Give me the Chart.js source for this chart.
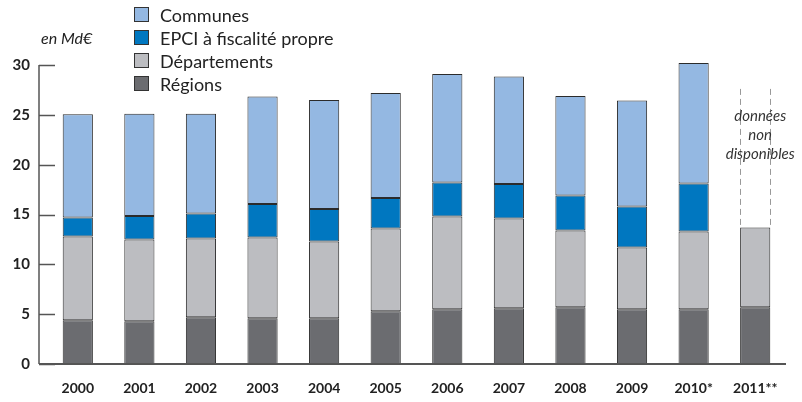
<!DOCTYPE html>
<html>
<head>
<meta charset="utf-8">
<script src="https://cdn.jsdelivr.net/npm/chart.js@4/dist/chart.umd.min.js"></script>
<style>
  body { margin: 0; background: #fff; }
  #wrap { position: relative; width: 802px; height: 402px; font-family: 'Lato', 'Open Sans', sans-serif; color: #222; }
  #legend { position: absolute; left: 134px; top: 3px; }
  .lg-item { display: flex; align-items: center; height: 23px; font-size: 18px; }
  .lg-box { width: 13px; height: 13px; border: 1px solid #333; margin-right: 11px; }
  #unit { position: absolute; left: 41px; top: 28px; font-size: 16px; font-style: italic; }
</style>
</head>
<body>
<div id="wrap">
  <canvas id="chart" width="802" height="402"></canvas>
  <div id="unit">en Md€</div>
  <div id="legend"></div>
</div>
<script>
'use strict';

// ----- données (en Md€) -----
const years = ['2000', '2001', '2002', '2003', '2004', '2005', '2006', '2007', '2008', '2009', '2010*', '2011**'];
const regions      = [4.4, 4.3, 4.7, 4.6, 4.6, 5.3, 5.5, 5.6, 5.7, 5.5, 5.5, 5.7];
const departements = [8.4, 8.2, 7.9, 8.1, 7.7, 8.3, 9.3, 9.0, 7.7, 6.2, 7.8, 8.0];
const epci         = [1.9, 2.35, 2.5, 3.35, 3.25, 3.05, 3.4, 3.45, 3.5, 4.1, 4.8, null];
const communes     = [10.35, 10.25, 10.0, 10.8, 10.95, 10.55, 10.9, 10.8, 10.0, 10.65, 12.1, null];
const yTicks = [0, 5, 10, 15, 20, 25, 30];
const noteLines = ['données', 'non', 'disponibles'];
const noteTop = 27.6;   // haut des pointillés 2011 (valeur)

const FONT = "'Lato', 'Open Sans', sans-serif";

/* ----------------------------------------------------------
   axes maison + mention « données non disponibles »
   ---------------------------------------------------------- */
const axesPlugin = {
  id: 'axesPlugin',
  afterDatasetsDraw(chart) {
    const { ctx, chartArea, scales: { y } } = chart;
    const ax = chartArea.left - 8;
    const y0 = y.getPixelForValue(0);
    ctx.save();
    ctx.strokeStyle = '#555';
    ctx.lineWidth = 1.5;
    ctx.beginPath();
    ctx.moveTo(ax, y.getPixelForValue(yTicks[yTicks.length - 1]));
    ctx.lineTo(ax, y0);
    yTicks.forEach(v => {
      const py = Math.round(y.getPixelForValue(v)) + 0.5;
      ctx.moveTo(ax, py);
      ctx.lineTo(ax + 16, py);
    });
    ctx.stroke();
    ctx.lineWidth = 2;
    ctx.beginPath();
    ctx.moveTo(ax, y0);
    ctx.lineTo(chartArea.right, y0);
    ctx.stroke();

    // pointillés 2011
    const bar = chart.getDatasetMeta(1).data[years.length - 1];
    const top = y.getPixelForValue(noteTop);
    ctx.strokeStyle = '#999';
    ctx.lineWidth = 1;
    ctx.setLineDash([6, 4]);
    ctx.beginPath();
    [bar.x - bar.width / 2, bar.x + bar.width / 2].forEach(px => {
      ctx.moveTo(Math.round(px) + 0.5, top);
      ctx.lineTo(Math.round(px) + 0.5, bar.y);
    });
    ctx.stroke();
    ctx.setLineDash([]);
    ctx.fillStyle = '#333';
    ctx.font = `italic 15px ${FONT}`;
    ctx.textAlign = 'center';
    ctx.textBaseline = 'middle';
    noteLines.forEach((t, i) => ctx.fillText(t, bar.x + 5, top + 27 + i * 19));
    ctx.restore();
  }
};

const common = { borderColor: '#2b2b2b', borderWidth: 1, borderSkipped: false, clip: false };

const chart = new Chart(document.getElementById('chart'), {
  type: 'bar',
  data: {
    labels: years,
    datasets: [
      { label: 'Régions', data: regions, backgroundColor: '#6b6c70', ...common },
      { label: 'Départements', data: departements, backgroundColor: '#bcbdc1', ...common },
      { label: 'EPCI à fiscalité propre', data: epci, backgroundColor: '#0077c0', ...common },
      { label: 'Communes', data: communes, backgroundColor: '#94b8e2', ...common }
    ]
  },
  options: {
    responsive: false,
    animation: false,
    layout: { padding: { top: 65, right: 16, bottom: 0, left: 0 } },
    datasets: { bar: { categoryPercentage: 1, barPercentage: 0.49 } },
    plugins: { legend: { display: false }, tooltip: { enabled: false } },
    scales: {
      x: {
        stacked: true,
        grid: { display: false, drawTicks: false },
        border: { display: false },
        ticks: { color: '#222', padding: 16, font: { family: FONT, size: 14, weight: 'bold' }, maxRotation: 0 },
        afterFit: s => { s.height = 38; }
      },
      y: {
        stacked: true,
        min: 0,
        max: 30,
        grid: { display: false, drawTicks: false },
        border: { display: false },
        afterBuildTicks: s => { s.ticks = yTicks.map(v => ({ value: v })); },
        ticks: { color: '#222', padding: 17, font: { family: FONT, size: 15, weight: 'bold' } },
        afterFit: s => { s.width = 47; }
      }
    }
  },
  plugins: [axesPlugin]
});

// ----- légende (ordre inverse de l'empilement) -----
const legend = document.getElementById('legend');
chart.data.datasets.slice().reverse().forEach(ds => {
  const item = document.createElement('div');
  item.className = 'lg-item';
  item.innerHTML = `<span class="lg-box" style="background:${ds.backgroundColor}"></span><span>${ds.label}</span>`;
  legend.appendChild(item);
});
</script>
</body>
</html>
